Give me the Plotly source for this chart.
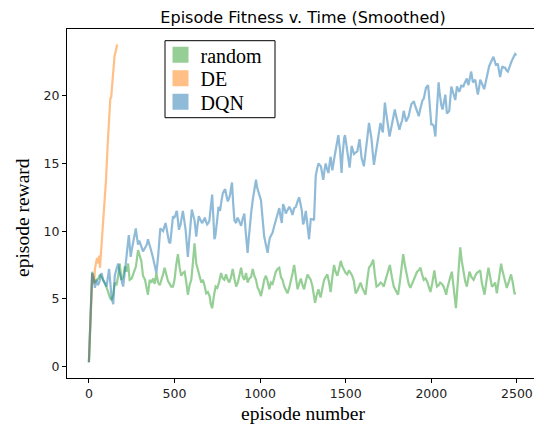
import plotly.graph_objects as go

title_text = "Episode Fitness v. Time (Smoothed)"
x_label = "episode number"
y_label = "episode reward"
series_names = ["random", "DE", "DQN"]
x_ticks = [0, 500, 1000, 1500, 2000, 2500]
y_ticks = [0, 5, 10, 15, 20]

random_x = [0, 10, 19, 25, 35, 45, 55, 65, 74, 83, 95, 110, 122, 132, 142, 151, 161, 171, 180, 190, 200, 210, 219, 229, 238, 250, 262, 275, 287, 296, 306, 316, 328, 337, 345, 355, 365, 375, 384, 394, 404, 414, 424, 433, 442, 452, 462, 472, 481, 491, 500, 510, 520, 530, 539, 549, 559, 568, 578, 588, 598, 607, 617, 627, 637, 646, 656, 666, 675, 685, 695, 705, 712, 720, 730, 740, 750, 760, 772, 782, 791, 801, 811, 820, 830, 840, 850, 860, 870, 880, 889, 899, 908, 918, 927, 937, 947, 957, 966, 976, 986, 995, 1005, 1015, 1024, 1034, 1044, 1054, 1063, 1073, 1083, 1092, 1102, 1112, 1122, 1131, 1141, 1150, 1160, 1170, 1180, 1190, 1199, 1209, 1219, 1228, 1238, 1248, 1257, 1267, 1277, 1286, 1296, 1306, 1314, 1321, 1331, 1341, 1348, 1354, 1364, 1374, 1383, 1393, 1403, 1412, 1422, 1432, 1441, 1451, 1461, 1471, 1480, 1490, 1500, 1509, 1519, 1529, 1538, 1548, 1558, 1568, 1577, 1587, 1597, 1606, 1616, 1626, 1636, 1648, 1661, 1670, 1680, 1692, 1704, 1713, 1723, 1733, 1742, 1750, 1758, 1770, 1781, 1793, 1806, 1816, 1826, 1836, 1847, 1859, 1868, 1878, 1888, 1898, 1907, 1917, 1927, 1937, 1946, 1956, 1966, 1975, 1985, 1995, 2005, 2018, 2026, 2033, 2043, 2052, 2062, 2072, 2080, 2087, 2094, 2101, 2111, 2120, 2130, 2138, 2144, 2152, 2160, 2169, 2178, 2188, 2198, 2208, 2215, 2223, 2235, 2247, 2257, 2266, 2276, 2286, 2295, 2303, 2311, 2322, 2334, 2344, 2354, 2363, 2373, 2383, 2395, 2408, 2415, 2422, 2431, 2441, 2454, 2466, 2476, 2486, 2495]
random_y = [0.3, 4.0, 7.0, 6.6, 6.2, 6.4, 6.5, 6.8, 6.6, 6.3, 6.1, 5.6, 5.1, 4.9, 5.3, 6.2, 6.0, 6.7, 7.6, 6.4, 6.6, 7.4, 7.0, 7.6, 6.4, 6.5, 6.9, 7.4, 8.6, 8.2, 7.8, 6.7, 6.4, 5.8, 5.3, 6.4, 6.2, 6.5, 6.1, 6.9, 6.2, 6.0, 6.4, 6.8, 7.3, 6.7, 6.3, 6.1, 5.9, 5.9, 6.4, 7.5, 8.3, 7.3, 6.7, 6.9, 7.0, 6.3, 5.3, 6.0, 6.4, 7.6, 9.1, 7.6, 7.0, 6.7, 6.2, 6.4, 6.0, 5.4, 5.5, 5.2, 4.6, 4.3, 5.2, 5.9, 5.8, 6.2, 6.9, 6.5, 6.4, 6.8, 6.4, 6.2, 6.6, 7.2, 6.5, 5.9, 6.2, 6.8, 7.3, 6.6, 6.4, 6.9, 6.2, 6.5, 6.6, 7.2, 6.7, 6.4, 5.8, 5.6, 5.2, 5.8, 6.4, 6.7, 6.3, 5.7, 6.2, 6.1, 6.6, 7.0, 7.2, 7.3, 6.6, 6.4, 5.9, 5.6, 5.4, 5.8, 6.3, 6.9, 7.5, 6.4, 5.7, 6.1, 6.5, 6.0, 5.7, 6.3, 6.8, 6.6, 6.4, 5.9, 5.2, 4.7, 5.3, 5.7, 5.3, 5.1, 5.8, 6.4, 6.6, 6.8, 6.2, 5.5, 6.6, 7.5, 7.0, 6.7, 7.2, 7.8, 7.4, 7.1, 6.9, 6.8, 7.1, 6.9, 6.7, 6.3, 5.4, 5.6, 5.9, 6.2, 5.8, 5.6, 5.3, 6.4, 7.3, 7.5, 7.9, 6.8, 5.9, 6.0, 6.2, 6.1, 5.9, 6.4, 6.8, 7.2, 7.5, 6.6, 5.9, 5.6, 5.3, 6.2, 7.3, 8.3, 7.4, 6.7, 6.1, 5.8, 6.1, 6.4, 6.8, 7.0, 7.1, 7.3, 6.8, 6.4, 6.5, 6.3, 5.9, 5.5, 6.1, 7.1, 6.4, 5.9, 6.0, 6.2, 6.1, 5.9, 5.6, 5.3, 5.8, 6.2, 6.6, 7.0, 6.1, 5.0, 4.3, 5.8, 7.6, 8.8, 7.8, 6.9, 6.3, 5.9, 6.5, 7.0, 6.6, 6.4, 6.7, 6.9, 7.0, 7.1, 6.2, 5.7, 5.3, 6.3, 7.3, 6.6, 5.9, 6.0, 6.2, 5.4, 6.5, 7.6, 7.1, 6.7, 6.2, 5.8, 6.3, 6.8, 6.2, 5.4, 5.4]

de_x = [0, 10, 20, 25, 31, 35, 41, 45, 50, 55, 60, 65, 70, 80, 90, 100, 110, 115, 120, 125, 130, 135, 140, 145, 150, 155, 160, 165]
de_y = [0.3, 3.5, 6.8, 6.3, 6.1, 7.2, 7.8, 7.9, 8.0, 7.6, 8.2, 7.3, 8.3, 10.0, 11.8, 13.8, 16.5, 18.0, 19.6, 19.8, 19.9, 20.6, 21.8, 22.0, 23.0, 23.2, 23.6, 23.8]

dqn_x = [0, 10, 19, 25, 30, 35, 40, 45, 52, 60, 67, 74, 83, 93, 103, 110, 118, 125, 132, 142, 151, 161, 171, 180, 190, 200, 210, 219, 226, 233, 238, 244, 250, 258, 265, 274, 280, 287, 294, 301, 308, 316, 324, 332, 338, 345, 355, 365, 375, 384, 394, 404, 410, 417, 425, 433, 440, 448, 455, 462, 468, 475, 483, 491, 498, 504, 510, 514, 520, 526, 530, 534, 542, 549, 557, 565, 572, 578, 585, 592, 597, 601, 609, 617, 622, 627, 634, 642, 652, 662, 670, 677, 684, 691, 698, 704, 712, 720, 727, 733, 738, 743, 750, 757, 762, 766, 774, 782, 790, 796, 804, 811, 818, 825, 830, 836, 843, 850, 855, 860, 865, 869, 879, 889, 898, 908, 917, 927, 934, 941, 949, 957, 966, 976, 983, 991, 998, 1005, 1014, 1024, 1034, 1044, 1050, 1057, 1065, 1073, 1083, 1092, 1102, 1112, 1120, 1127, 1134, 1141, 1150, 1160, 1170, 1179, 1189, 1199, 1209, 1219, 1228, 1238, 1244, 1251, 1257, 1267, 1277, 1286, 1296, 1305, 1315, 1320, 1325, 1333, 1341, 1348, 1355, 1362, 1369, 1376, 1383, 1391, 1399, 1406, 1412, 1417, 1422, 1432, 1439, 1445, 1451, 1457, 1462, 1467, 1472, 1476, 1481, 1486, 1491, 1496, 1503, 1510, 1517, 1523, 1529, 1535, 1542, 1548, 1558, 1568, 1575, 1581, 1587, 1593, 1600, 1606, 1614, 1622, 1629, 1636, 1644, 1651, 1658, 1665, 1671, 1678, 1686, 1694, 1699, 1703, 1710, 1717, 1723, 1729, 1736, 1742, 1749, 1756, 1764, 1772, 1780, 1787, 1793, 1800, 1807, 1814, 1822, 1830, 1835, 1839, 1846, 1853, 1860, 1868, 1876, 1884, 1891, 1898, 1905, 1911, 1919, 1927, 1935, 1942, 1949, 1956, 1962, 1969, 1975, 1981, 1985, 1989, 1995, 2000, 2007, 2014, 2019, 2024, 2028, 2033, 2038, 2043, 2048, 2052, 2059, 2066, 2074, 2082, 2087, 2091, 2098, 2105, 2111, 2117, 2124, 2130, 2135, 2140, 2145, 2150, 2157, 2163, 2169, 2175, 2181, 2188, 2193, 2198, 2203, 2208, 2212, 2217, 2225, 2233, 2238, 2243, 2250, 2257, 2265, 2272, 2279, 2286, 2293, 2299, 2304, 2309, 2316, 2324, 2331, 2338, 2345, 2353, 2358, 2363, 2370, 2377, 2383, 2388, 2395, 2402, 2408, 2415, 2423, 2431, 2439, 2447, 2453, 2460, 2467, 2474, 2482, 2490, 2497]
dqn_y = [0.3, 4.0, 6.9, 6.7, 6.0, 5.8, 6.2, 6.4, 6.0, 6.2, 6.6, 6.9, 6.4, 6.1, 5.9, 6.5, 7.2, 6.2, 5.1, 4.6, 6.7, 7.2, 7.6, 6.9, 6.4, 5.9, 7.0, 8.1, 9.0, 9.7, 9.0, 8.1, 8.6, 9.1, 9.6, 10.2, 9.6, 9.0, 9.3, 9.1, 8.8, 8.5, 8.7, 8.8, 9.0, 9.4, 9.0, 8.5, 8.0, 7.4, 6.9, 8.1, 9.2, 10.2, 10.1, 10.0, 10.3, 10.6, 10.1, 9.6, 9.2, 9.1, 10.2, 11.1, 11.0, 11.1, 11.4, 11.5, 10.8, 10.1, 10.3, 10.4, 11.0, 11.5, 10.8, 10.1, 9.0, 8.1, 9.2, 10.1, 11.0, 11.6, 11.2, 10.8, 10.2, 9.6, 10.4, 11.1, 10.8, 10.6, 10.8, 11.0, 10.7, 10.5, 10.6, 10.8, 11.8, 12.7, 11.0, 9.4, 9.6, 10.0, 10.9, 11.8, 11.6, 11.5, 12.2, 12.8, 13.0, 13.1, 12.6, 12.2, 12.4, 12.7, 13.2, 13.6, 12.0, 10.8, 10.7, 10.6, 10.9, 11.0, 10.7, 10.4, 10.9, 11.3, 9.8, 8.4, 9.5, 10.6, 11.5, 12.3, 13.0, 13.8, 13.2, 12.8, 12.6, 12.3, 11.0, 9.6, 9.0, 8.4, 9.0, 9.5, 9.7, 9.9, 10.4, 10.8, 11.2, 11.7, 11.0, 10.6, 12.0, 11.8, 11.3, 11.5, 11.8, 11.6, 11.2, 11.7, 11.8, 12.2, 12.5, 11.9, 11.5, 10.5, 10.7, 11.5, 10.6, 9.4, 10.9, 10.9, 10.8, 12.5, 14.1, 14.6, 15.0, 14.9, 14.8, 14.3, 13.8, 14.5, 15.0, 14.6, 14.3, 15.0, 15.5, 15.0, 14.5, 15.3, 15.8, 16.3, 16.8, 17.1, 16.5, 16.0, 15.0, 14.3, 15.5, 16.6, 16.9, 17.1, 16.5, 15.8, 15.2, 14.7, 15.5, 16.3, 16.0, 15.7, 15.8, 15.9, 16.4, 16.8, 16.1, 15.4, 15.1, 14.8, 15.6, 16.3, 17.2, 18.0, 17.4, 16.8, 15.8, 14.9, 15.4, 16.0, 16.5, 17.0, 17.5, 18.0, 17.6, 17.3, 18.4, 19.5, 18.8, 18.2, 17.6, 17.0, 17.5, 18.0, 18.5, 19.0, 18.6, 18.2, 17.8, 17.5, 17.9, 18.2, 18.6, 18.9, 18.5, 18.1, 18.3, 18.5, 19.0, 19.4, 19.5, 19.6, 19.3, 19.1, 18.8, 18.5, 19.0, 19.5, 19.7, 19.8, 20.2, 20.6, 20.7, 20.8, 20.3, 19.7, 18.8, 17.9, 17.9, 17.8, 17.4, 17.0, 18.0, 19.0, 20.0, 21.0, 20.3, 19.7, 19.3, 19.0, 19.6, 20.1, 19.4, 18.7, 18.8, 18.9, 19.8, 20.7, 20.4, 20.1, 19.9, 19.7, 20.2, 20.7, 20.5, 20.3, 20.5, 20.8, 20.7, 20.7, 20.9, 21.0, 21.1, 21.3, 21.0, 20.8, 21.3, 21.8, 21.4, 21.0, 21.1, 21.2, 20.6, 20.1, 20.6, 21.2, 21.0, 20.8, 20.6, 20.5, 20.9, 21.4, 21.8, 22.2, 22.4, 22.6, 22.7, 22.9, 22.6, 22.3, 22.3, 22.4, 21.9, 21.4, 21.8, 22.2, 22.1, 22.1, 21.9, 21.8, 22.0, 22.3, 22.5, 22.7, 22.9, 23.1, 23.0]

colors = ["rgba(44,160,44,0.5)", "rgba(255,127,14,0.5)", "rgba(31,119,180,0.5)"]

# body margin is removed in the page, so the figure fills the window exactly
W, H = 534, 427
PL, PT, PR, PB = 67, 29, 534, 378
pw, ph = PR - PL, PB - PT


def px_x(px):
    return (px - PL) / pw


def px_y(py):
    return (PB - py) / ph


fig = go.Figure()
for xs, ys, c, n in [(random_x, random_y, colors[0], series_names[0]),
                     (de_x, de_y, colors[1], series_names[1]),
                     (dqn_x, dqn_y, colors[2], series_names[2])]:
    fig.add_trace(go.Scatter(x=xs, y=ys, mode="lines", name=n, showlegend=False,
                             line=dict(color=c, width=2.2), hoverinfo="skip"))

legend_names = ["legend", "legend2", "legend3"]
legend_centers = [54.7, 78.3, 101.7]
for c, n, lg in zip(colors, series_names, legend_names):
    fig.add_trace(go.Scatter(x=[None], y=[None], mode="markers", name=n, legend=lg,
                             marker=dict(symbol="square", size=18, color=c)))

legend_font = dict(family="Liberation Serif", size=20, color="black")
legend_cfg = {}
for lg, cy in zip(legend_names, legend_centers):
    legend_cfg[lg] = dict(x=px_x(160.5), y=px_y(cy), xanchor="left", yanchor="middle",
                          bgcolor="rgba(0,0,0,0)", borderwidth=0, font=legend_font,
                          itemsizing="trace")

tick_font = dict(family="DejaVu Sans", size=12.5, color="#222")
fig.update_layout(
    width=W, height=H,
    margin=dict(l=PL, r=W - PR, t=PT, b=H - PB),
    paper_bgcolor="white", plot_bgcolor="white",
    title=dict(text=title_text, x=px_x(303), xanchor="center", xref="paper",
               y=1 - 17 / H, yref="container", yanchor="middle",
               font=dict(family="DejaVu Sans", size=16, color="black")),
    xaxis=dict(range=[-128, 2600], tickvals=x_ticks, ticks="outside", ticklen=4,
               tickcolor="black", showline=True, linecolor="black", linewidth=1,
               mirror=True, showgrid=False, zeroline=False, tickfont=tick_font,
               ticklabeloverflow="allow"),
    yaxis=dict(range=[-0.86, 24.95], tickvals=y_ticks, ticks="outside", ticklen=4,
               tickcolor="black", showline=True, linecolor="black", linewidth=1,
               showgrid=False, zeroline=False, tickfont=tick_font),
    shapes=[dict(type="rect", xref="paper", yref="paper",
                 x0=px_x(165), x1=px_x(275), y0=px_y(117.7), y1=px_y(40.7),
                 line=dict(color="black", width=1), fillcolor="white", layer="above")],
    annotations=[
        dict(text=x_label, xref="paper", yref="paper", x=px_x(303),
             y=px_y(413), xanchor="center", yanchor="middle",
             showarrow=False, font=dict(family="Liberation Serif", size=19.5, color="black")),
        dict(text=y_label, xref="paper", yref="paper", x=px_x(22),
             y=px_y(218), xanchor="center", yanchor="middle", textangle=-90,
             showarrow=False, font=dict(family="Liberation Serif", size=19.5, color="black")),
    ],
    **legend_cfg,
)
fig.write_html("out.html", config={"displayModeBar": False},
               post_script="document.body.style.margin='0';document.body.style.overflow='hidden';")
